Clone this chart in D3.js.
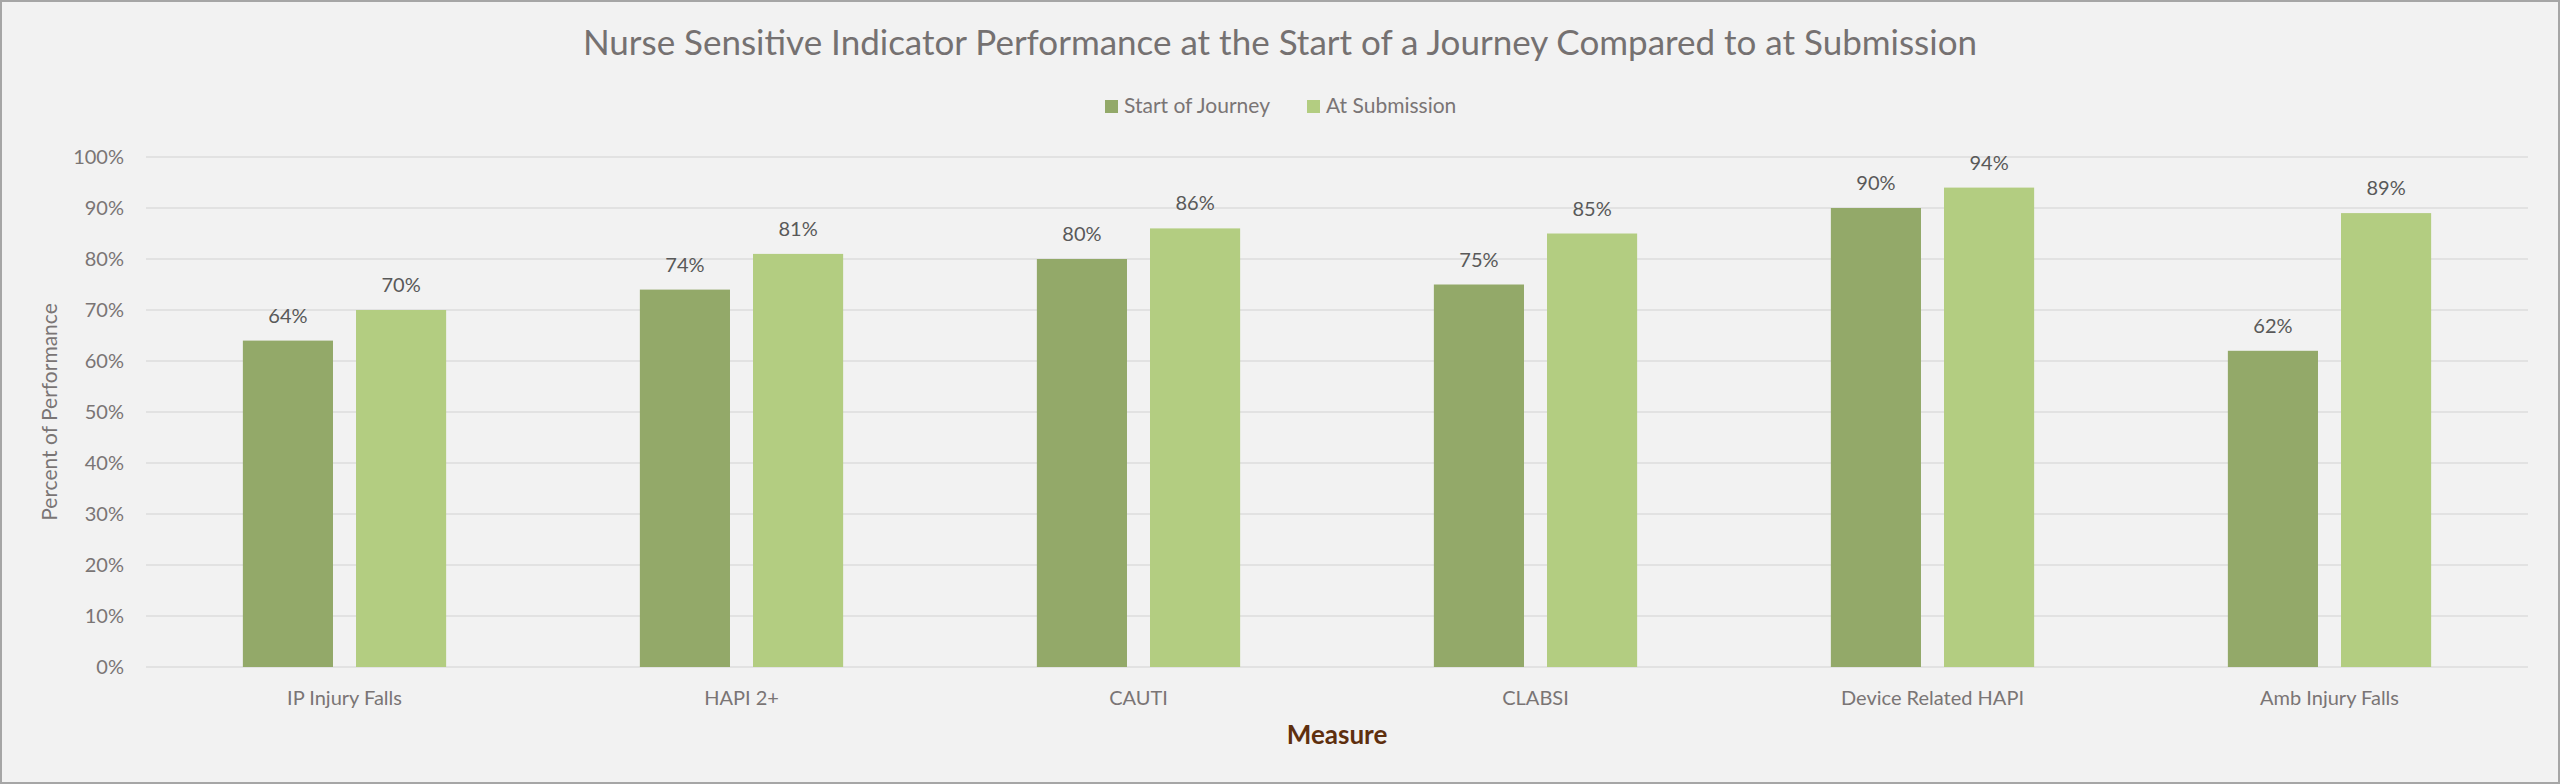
<!DOCTYPE html>
<html>
<head>
<meta charset="utf-8">
<script src="https://cdn.jsdelivr.net/npm/d3@7"></script>
<style>
  body { margin: 0; background: #f2f2f2; }
  svg { display: block; font-family: Lato, 'Open Sans', sans-serif; }
</style>
</head>
<body>
<div id="chart"></div>
<script>
var categories = ['IP Injury Falls', 'HAPI 2+', 'CAUTI', 'CLABSI', 'Device Related HAPI', 'Amb Injury Falls']
var seriesNames = ['Start of Journey', 'At Submission']
var startValues = [0.64, 0.74, 0.80, 0.75, 0.90, 0.62]
var submissionValues = [0.70, 0.81, 0.86, 0.85, 0.94, 0.89]
var yTicks = [0, 0.1, 0.2, 0.3, 0.4, 0.5, 0.6, 0.7, 0.8, 0.9, 1.0]

var width = 2560
var height = 784
var margin = { top: 157, left: 146, right: 32, bottom: 117 }
var innerW = width - margin.left - margin.right
var innerH = height - margin.top - margin.bottom

var colors = ['#93a969', '#b3cd81']

var svg = d3
  .select('#chart')
  .append('svg')
  .attr('width', width)
  .attr('height', height)

svg
  .append('rect')
  .attr('x', 1)
  .attr('y', 1)
  .attr('width', width - 2)
  .attr('height', height - 2)
  .attr('fill', '#f2f2f2')
  .attr('stroke', '#a6a6a6')
  .attr('stroke-width', 2)

var g = svg
  .append('g')
  .attr('transform', 'translate(' + margin.left + ',' + margin.top + ')')

var x0 = d3.scaleBand().domain(categories).range([0, innerW]).paddingInner(0).paddingOuter(0)
// bar group takes about half of each band, bars separated by a small gap
var groupW = x0.bandwidth() * 0.512
var x1 = d3.scaleBand().domain(seriesNames).range([0, groupW]).paddingInner(0.2035)
var y = d3.scaleLinear().domain([0, 1]).range([innerH, 0])

// gridlines
g.selectAll('.grid')
  .data(yTicks)
  .enter()
  .append('line')
  .attr('x1', 0)
  .attr('x2', innerW)
  .attr('y1', d => y(d))
  .attr('y2', d => y(d))
  .attr('stroke', '#dcdcdc')
  .attr('stroke-width', 1.5)

// y axis labels
var yAxis = d3.axisLeft(y).tickValues(yTicks).tickFormat(d3.format('.0%')).tickSize(0).tickPadding(22)
var yG = g.append('g').call(yAxis)
yG.select('.domain').remove()
yG.selectAll('text').attr('font-size', 20).attr('fill', '#7a7575').attr('font-family', 'Lato')

// x axis labels
var xAxis = d3.axisBottom(x0).tickSize(0).tickPadding(24)
var xG = g.append('g').attr('transform', 'translate(0,' + innerH + ')').call(xAxis)
xG.select('.domain').remove()
xG.selectAll('text').attr('font-size', 20).attr('fill', '#7a7575').attr('font-family', 'Lato')

var rows = categories.map((c, i) => ({
  category: c,
  values: [
    { series: seriesNames[0], value: startValues[i] },
    { series: seriesNames[1], value: submissionValues[i] }
  ]
}))

var groups = g
  .selectAll('.cat')
  .data(rows)
  .enter()
  .append('g')
  .attr('transform', d => 'translate(' + (x0(d.category) + (x0.bandwidth() - groupW) / 2) + ',0)')

groups
  .selectAll('rect')
  .data(d => d.values)
  .enter()
  .append('rect')
  .attr('x', d => x1(d.series))
  .attr('width', x1.bandwidth())
  .attr('y', d => y(d.value))
  .attr('height', d => innerH - y(d.value))
  .attr('fill', (d, i) => colors[i])

groups
  .selectAll('.label')
  .data(d => d.values)
  .enter()
  .append('text')
  .attr('x', d => x1(d.series) + x1.bandwidth() / 2)
  .attr('y', d => y(d.value) - 18)
  .attr('text-anchor', 'middle')
  .attr('font-size', 20)
  .attr('fill', '#595959')
  .text(d => d3.format('.0%')(d.value))

// title
svg
  .append('text')
  .attr('x', width / 2)
  .attr('y', 55)
  .attr('text-anchor', 'middle')
  .attr('font-size', 35)
  .attr('fill', '#757171')
  .text('Nurse Sensitive Indicator Performance at the Start of a Journey Compared to at Submission')

// y axis title
svg
  .append('text')
  .attr('transform', 'translate(' + 57 + ',' + (margin.top + innerH / 2) + ') rotate(-90)')
  .attr('text-anchor', 'middle')
  .attr('font-size', 21)
  .attr('fill', '#7a7575')
  .text('Percent of Performance')

// x axis title
svg
  .append('text')
  .attr('x', margin.left + innerW / 2)
  .attr('y', 744)
  .attr('text-anchor', 'middle')
  .attr('font-size', 26)
  .attr('font-weight', 'bold')
  .attr('fill', '#5e2f0e')
  .text('Measure')

// legend
var legend = svg.append('g').attr('transform', 'translate(1105,100)')
var legendX = [0, 202]
seriesNames.forEach(function(name, i) {
  var item = legend.append('g').attr('transform', 'translate(' + legendX[i] + ',0)')
  item.append('rect').attr('width', 13).attr('height', 13).attr('fill', colors[i])
  item
    .append('text')
    .attr('x', 19)
    .attr('y', 13)
    .attr('font-size', 21)
    .attr('fill', '#7a7575')
    .text(name)
})
</script>
</body>
</html>
